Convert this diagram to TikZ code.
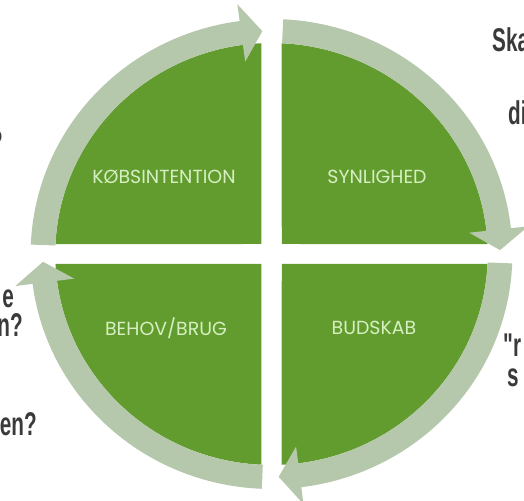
\documentclass[tikz,border=0pt]{standalone}
\usepackage{fontspec}
\newfontfamily\outerfont[FakeStretch=0.63]{Liberation Sans}
\newfontfamily\quadfont{Poppins}
\definecolor{quadgreen}{HTML}{639C2E}
\definecolor{ringsage}{HTML}{B5C8AC}
\definecolor{labelgreen}{HTML}{D6EFC2}
\definecolor{textgray}{HTML}{3A3A3A}

\begin{document}
\begin{tikzpicture}[x=1bp,y=1bp]
	\tikzset{quad/.style={
		fill=quadgreen
	}}
	\tikzset{ringarrow/.style={
		fill=ringsage
	}}
	\tikzset{quadlabel/.style={
		text=labelgreen, font=\quadfont\fontsize{19}{19}\selectfont, inner sep=0pt
	}}
	\tikzset{sidetext/.style={
		text=textgray, font=\outerfont\bfseries\fontsize{33}{33}\selectfont, inner sep=0pt
	}}

	\useasboundingbox (0,0) rectangle (524,501);

	\begin{scope}[shift={(271.5,247)}, xscale=1.025]
		% Quadranten
		\foreach \rot in {0,90,180,270}
			\fill[quad, rotate=\rot] (10,10) -- (87.3:211) arc[start angle=87.3, end angle=2.7, radius=211] -- cycle;

		% Pile rundt om cirklen: hale / spids
		\foreach \tl/\tp in {177.7/92.3, 87.2/1, -2.3/-88.2, -92.3/-178}
		{
			\pgfmathsetmacro{\bs}{\tp+5.3}
			\fill[ringarrow] (\tl:235) arc[start angle=\tl, end angle=\bs, radius=235]
				-- (\bs:252) -- (\tp:223) -- (\bs:194) -- (\bs:211)
				arc[start angle=\bs, end angle=\tl, radius=211] -- cycle;
		}
	\end{scope}

	% Tekst i kvadranterne
	\node (kob) [quadlabel] at (164,324) {KØBSINTENTION};
	\node (syn) [quadlabel] at (377,324) {SYNLIGHED};
	\node (beh) [quadlabel] at (166,173) {BEHOV/BRUG};
	\node (bud) [quadlabel] at (374,173) {BUDSKAB};

	% Tekst til venstre (afskaaret)
	\node (v1) [sidetext, anchor=base east] at (3,347) {?};
	\node (v2) [sidetext, anchor=base east] at (14,193) {e};
	\node (v3) [sidetext, anchor=base east] at (23,164) {n?};
	\node (v4) [sidetext, anchor=base east] at (37,65) {en?};

	% Tekst til hoejre (afskaaret)
	\node (h1) [sidetext, anchor=base west] at (492,449) {Ska};
	\node (h2) [sidetext, anchor=base west] at (508,376) {di};
	\node (h3) [sidetext, anchor=base west] at (503,144) {"r};
	\node (h4) [sidetext, anchor=base west] at (507,114) {s};
\end{tikzpicture}
\end{document}
